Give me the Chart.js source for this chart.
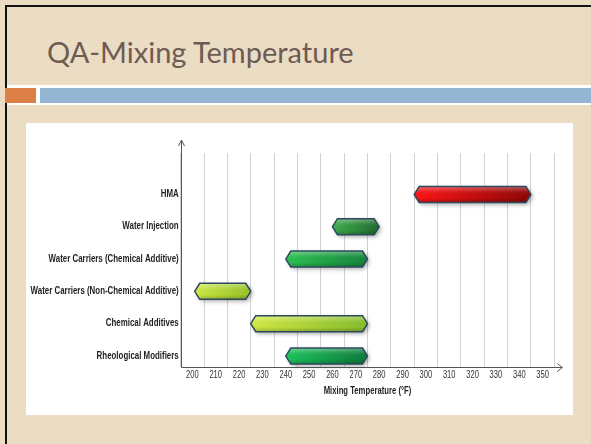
<!DOCTYPE html>
<html>
<head>
<meta charset="utf-8">
<script src="https://cdn.jsdelivr.net/npm/chart.js@4"></script>
<style>
  html, body { margin: 0; padding: 0; }
  body { width: 591px; height: 444px; background: #ebddc4; position: relative; overflow: hidden; }
  .frame-top { position: absolute; left: 5px; top: 5px; width: 586px; height: 2px; background: #111; }
  .frame-left { position: absolute; left: 5px; top: 5px; width: 2px; height: 439px; background: #111; }
  .title { position: absolute; left: 47px; top: 37px; font-family: Lato, "Open Sans", sans-serif; font-size: 29px; line-height: 29px; color: #6e5b53; white-space: nowrap; }
  .band { position: absolute; left: 7px; top: 85px; width: 584px; height: 20px; background: #ffffff; }
  .band-orange { position: absolute; left: 5px; top: 88px; width: 31px; height: 15px; background: #dd8047; }
  .band-blue { position: absolute; left: 40px; top: 88px; width: 551px; height: 15px; background: #94b6d2; }
  .panel { position: absolute; left: 26px; top: 123px; width: 547px; height: 292px; background: #ffffff; }
  #chart { position: absolute; left: 26px; top: 123px; }
</style>
</head>
<body>
<div class="frame-top"></div>
<div class="frame-left"></div>
<div class="title">QA-Mixing Temperature</div>
<div class="band"></div>
<div class="band-orange"></div>
<div class="band-blue"></div>
<div class="panel"></div>
<canvas id="chart" width="547" height="292"></canvas>
<script>
// Mixing temperature ranges (°F), listed bottom to top
const categories = [
  'Rheological Modifiers',
  'Chemical Additives',
  'Water Carriers (Non-Chemical Additive)',
  'Water Carriers (Chemical Additive)',
  'Water Injection',
  'HMA'
];
const lowTemps  = [240, 225, 201, 240, 260, 295];
const highTemps = [275, 275, 225, 275, 280, 345];
const tickLabels = [200, 210, 220, 230, 240, 250, 260, 270, 280, 290, 300, 310, 320, 330, 340, 350];
const axisTitle = 'Mixing Temperature (°F)';

// Left / right colours of each bar's gradient
const barColors = [
  ['#1cc25a', '#0d7a3c'],
  ['#d2ea44', '#86bc2c'],
  ['#cfe848', '#94c226'],
  ['#2cc052', '#14843a'],
  ['#42ad4c', '#1d6a2c'],
  ['#ff1414', '#8e0606']
];

const FONT = '"Liberation Sans", Arial, sans-serif';

// Hexagon-ended glossy bars drawn over the (transparent) bar elements
const hexBars = {
  id: 'hexBars',
  afterDatasetsDraw(chart) {
    const ctx = chart.ctx;
    const meta = chart.getDatasetMeta(0);
    meta.data.forEach((el, i) => {
      const p = el.getProps(['x', 'y', 'base', 'height'], true);
      const x0 = Math.min(p.x, p.base), x1 = Math.max(p.x, p.base);
      const h = p.height, y = p.y, t = 5;
      const path = () => {
        ctx.beginPath();
        ctx.moveTo(x0, y);
        ctx.lineTo(x0 + t, y - h / 2);
        ctx.lineTo(x1 - t, y - h / 2);
        ctx.lineTo(x1, y);
        ctx.lineTo(x1 - t, y + h / 2);
        ctx.lineTo(x0 + t, y + h / 2);
        ctx.closePath();
      };
      ctx.save();
      const g = ctx.createLinearGradient(x0, 0, x1, 0);
      g.addColorStop(0, barColors[i][0]);
      g.addColorStop(1, barColors[i][1]);
      path();
      ctx.shadowColor = 'rgba(0,0,0,0.35)';
      ctx.shadowBlur = 4;
      ctx.shadowOffsetX = 2;
      ctx.shadowOffsetY = 2;
      ctx.fillStyle = g;
      ctx.fill();
      ctx.shadowColor = 'transparent';
      const v = ctx.createLinearGradient(0, y - h / 2, 0, y + h / 2);
      v.addColorStop(0, 'rgba(255,255,255,0.35)');
      v.addColorStop(0.35, 'rgba(255,255,255,0.05)');
      v.addColorStop(0.7, 'rgba(0,0,0,0)');
      v.addColorStop(1, 'rgba(0,0,0,0.22)');
      path();
      ctx.fillStyle = v;
      ctx.fill();
      path();
      ctx.lineWidth = 1.5;
      ctx.strokeStyle = '#2c4a5c';
      ctx.stroke();
      ctx.restore();
    });
  }
};

// Axis lines with arrow heads
const arrowAxes = {
  id: 'arrowAxes',
  beforeDatasetsDraw(chart) {
    const { ctx, chartArea: a } = chart;
    const L = Math.round(a.left) + 0.5, B = Math.round(a.bottom) + 0.5;
    ctx.save();
    ctx.strokeStyle = '#555';
    ctx.lineWidth = 1;
    ctx.beginPath();
    ctx.moveTo(L, B);
    ctx.lineTo(L, a.top - 13);
    ctx.moveTo(L, B);
    ctx.lineTo(a.right + 8, B);
    ctx.stroke();
    ctx.beginPath();
    ctx.moveTo(L - 3, a.top - 7);
    ctx.lineTo(L, a.top - 13);
    ctx.lineTo(L + 3, a.top - 7);
    ctx.moveTo(a.right + 3, B - 4);
    ctx.lineTo(a.right + 8, B);
    ctx.lineTo(a.right + 3, B + 4);
    ctx.stroke();
    ctx.restore();
  }
};

// Condensed axis text placed with the chart's own scales
const narrowText = {
  id: 'narrowText',
  afterDraw(chart) {
    const { ctx, chartArea: a, scales } = chart;
    const put = (text, x, y, font, color, sx, align) => {
      ctx.save();
      ctx.translate(x, y);
      ctx.scale(sx, 1);
      ctx.font = font;
      ctx.fillStyle = color;
      ctx.textAlign = align;
      ctx.textBaseline = 'middle';
      ctx.fillText(text, 0, 0);
      ctx.restore();
    };
    categories.forEach((c, i) => {
      put(c, a.left - 2, scales.y.getPixelForValue(i), 'bold 10px ' + FONT, '#1e1e1e', 0.79, 'right');
    });
    tickLabels.forEach(v => {
      put(String(v), scales.x.getPixelForValue(v), a.bottom + 8.5, '10.5px ' + FONT, '#333', 0.72, 'center');
    });
    put(axisTitle, (a.left + a.right) / 2, a.bottom + 24.5, 'bold 10px ' + FONT, '#1e1e1e', 0.77, 'center');
  }
};

new Chart(document.getElementById('chart'), {
  type: 'bar',
  data: {
    datasets: [{
      data: categories.map((c, i) => ({ y: i, x: [lowTemps[i], highTemps[i]] })),
      backgroundColor: 'rgba(0,0,0,0)',
      borderWidth: 0,
      barThickness: 16
    }]
  },
  options: {
    indexAxis: 'y',
    responsive: false,
    devicePixelRatio: 1,
    animation: false,
    layout: { padding: { top: 30, right: 18.7, bottom: 0, left: 0 } },
    plugins: { legend: { display: false }, tooltip: { enabled: false } },
    scales: {
      x: {
        type: 'linear',
        position: 'bottom',
        min: 195,
        max: 355,
        border: { display: false },
        grid: {
          drawTicks: false,
          lineWidth: 1,
          color: c => (c.tick && c.tick.value % 10 === 5) ? '#d2d2d2' : 'rgba(0,0,0,0)'
        },
        afterBuildTicks: s => {
          const t = [];
          for (let v = 195; v <= 355; v += 5) t.push({ value: v });
          s.ticks = t;
        },
        ticks: { display: false, autoSkip: false },
        afterFit: s => { s.height = 48.3; }
      },
      y: {
        type: 'linear',
        offset: false,
        min: -0.33,
        max: 6.28,
        border: { display: false },
        grid: { display: false, drawTicks: false },
        afterBuildTicks: s => { s.ticks = categories.map((c, i) => ({ value: i })); },
        ticks: { display: false, autoSkip: false },
        afterFit: s => { s.width = 154.7; }
      }
    }
  },
  plugins: [arrowAxes, hexBars, narrowText]
});
</script>
</body>
</html>
